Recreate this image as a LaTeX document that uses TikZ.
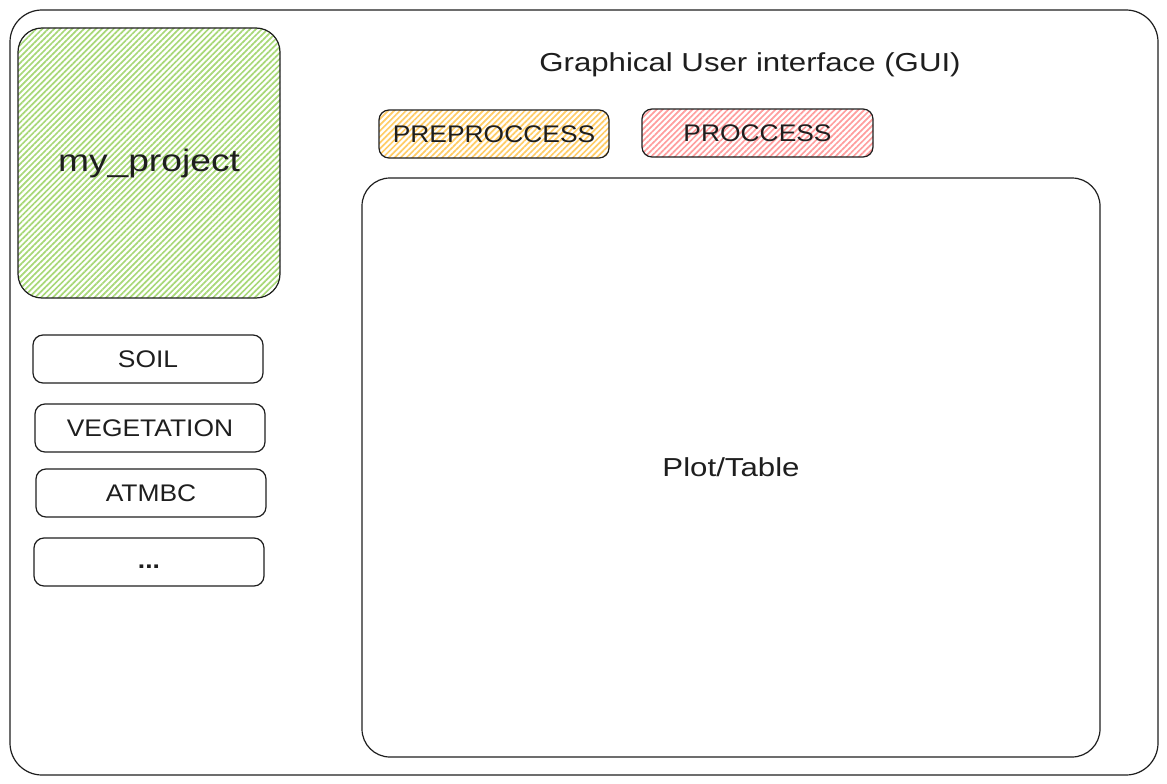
\documentclass[tikz,border=0pt]{standalone}
\usepackage{fontspec}
\setmainfont{Liberation Sans}
\newfontfamily\handfont[FakeStretch=1.2]{Liberation Sans}
\newfontfamily\capsfont[FakeStretch=1.1]{Liberation Sans}
\usetikzlibrary{patterns.meta}
\definecolor{ink}{HTML}{1E1E1E}
\definecolor{hgreen}{HTML}{A8D878}
\definecolor{hyellow}{HTML}{FFCC66}
\definecolor{hred}{HTML}{FF9E9E}
\tikzset{
  sketch/.style={draw=ink, line width=1.2pt, rounded corners=10pt, inner sep=0pt, text=ink},
  hatch/.style={pattern={Lines[angle=45,distance=4.2pt,line width=1.7pt]}, pattern color=#1},
  lbl/.style={font=\capsfont\fontsize{24}{28}\selectfont},
  plain/.style={text=ink, inner sep=0pt}
}
\begin{document}
\begin{tikzpicture}[x=1pt,y=-1pt]
\useasboundingbox (0,0) rectangle (1167,784);
% outer frame
\node[sketch, rounded corners=32pt, minimum width=1148pt, minimum height=765pt] (frame) at (584,392.5) {};
% project box
\node[sketch, rounded corners=24pt, hatch=hgreen, minimum width=262pt, minimum height=270pt,
      font=\handfont\fontsize{31}{36}\selectfont] (proj) at (149,163) {my\_project};
% title
\node[plain, font=\handfont\fontsize{26}{30}\selectfont] (title) at (750,65) {Graphical User interface (GUI)};
% buttons
\node[sketch, lbl, hatch=hyellow, minimum width=230pt, minimum height=48pt] (pre) at (494,134) {PREPROCCESS};
\node[sketch, lbl, hatch=hred, minimum width=231pt, minimum height=48pt] (proc) at (757.5,133) {PROCCESS};
% plot area
\node[sketch, rounded corners=28pt, minimum width=738pt, minimum height=579pt,
      font=\handfont\fontsize{26}{30}\selectfont] (plot) at (731,467.5) {Plot/Table};
% left list
\node[sketch, lbl, minimum width=230pt, minimum height=48pt] (soil) at (148,359) {SOIL};
\node[sketch, lbl, minimum width=230pt, minimum height=48pt] (veg) at (150,428) {VEGETATION};
\node[sketch, lbl, minimum width=230pt, minimum height=48pt] (atm) at (151,493) {ATMBC};
\node[sketch, lbl, minimum width=230pt, minimum height=48pt] (more) at (149,562) {\smash{\raisebox{-6pt}{\bfseries ...}}};
\end{tikzpicture}
\end{document}
